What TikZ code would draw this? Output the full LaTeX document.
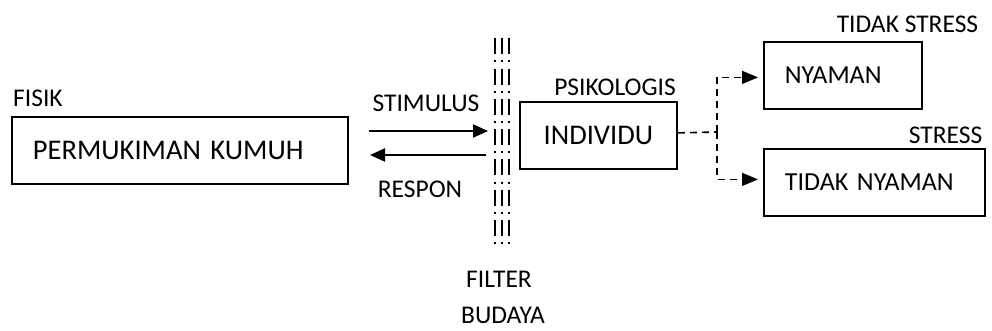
\documentclass[tikz,border=0pt]{standalone}
\usepackage{fontspec}
\setmainfont{Carlito}
\usetikzlibrary{arrows.meta}
\tikzset{
  box/.style={draw, line width=1.8pt, align=left, inner xsep=21pt, inner ysep=0pt, minimum height=67pt, anchor=north west},
  lbl/.style={inner sep=0pt, font=\fontsize{25.5pt}{28pt}\selectfont},
  big/.style={font=\fontsize{28.5pt}{32pt}\selectfont},
  mid/.style={font=\fontsize{26pt}{30pt}\selectfont},
  solidarrow/.style={line width=2pt, -{Triangle[length=15pt, width=13pt]}},
  dsh/.style={line width=1.6pt, dash pattern=on 7pt off 5pt},
  dsharrow/.style={dsh, -{Triangle[length=16pt, width=13pt]}, shorten >=5pt},
  filterline/.style={line width=2pt, dash pattern=on 16pt off 6pt on 2pt off 6.3pt}
}
\begin{document}
\begin{tikzpicture}[x=1pt,y=-1pt]
\useasboundingbox (0,0) rectangle (992,331);
% boxes
\node[box, big, text width=294pt] (perm) at (11,116) {PERMUKIMAN KUMUH};
\node[box, big, align=center, inner xsep=0pt, minimum width=157pt] (indiv) at (519,101) {INDIVIDU};
\node[box, mid, text width=116pt] (nyam) at (763,41) {NYAMAN};
\node[box, mid, text width=179pt] (tnyam) at (763,148) {TIDAK NYAMAN};
% labels
\node[lbl] (fisik) at (38,98.5) {FISIK};
\node[lbl] (stim) at (426,103.5) {STIMULUS};
\node[lbl] (resp) at (420,189) {RESPON};
\node[lbl] (psik) at (615,87) {PSIKOLOGIS};
\node[lbl] (tstress) at (907.5,24) {TIDAK STRESS};
\node[lbl] (stress) at (945.5,135.5) {STRESS};
\node[lbl] (filt) at (499,279.5) {FILTER};
\node[lbl] (bud) at (503,315) {BUDAYA};
% filter
\foreach \xx in {495,502,509}{
  \draw[filterline] (\xx,38.3) -- (\xx,246);
}
% stimulus / respon arrows
\coordinate (s1) at (369,131);
\coordinate (s2) at (488,131);
\coordinate (r1) at (486,155);
\coordinate (r2) at (370,155);
\draw[solidarrow] (s1) -- (s2);
\draw[solidarrow] (r1) -- (r2);
% dashed connector
\coordinate (j) at (717,132);
\draw[dsh] ([yshift=2.5pt]indiv.east) -- (j);
\draw[dsharrow] (j) |- ([yshift=-2pt]nyam.west);
\draw[dsharrow] (j) |- ([yshift=3pt]tnyam.west);
\end{tikzpicture}
\end{document}
